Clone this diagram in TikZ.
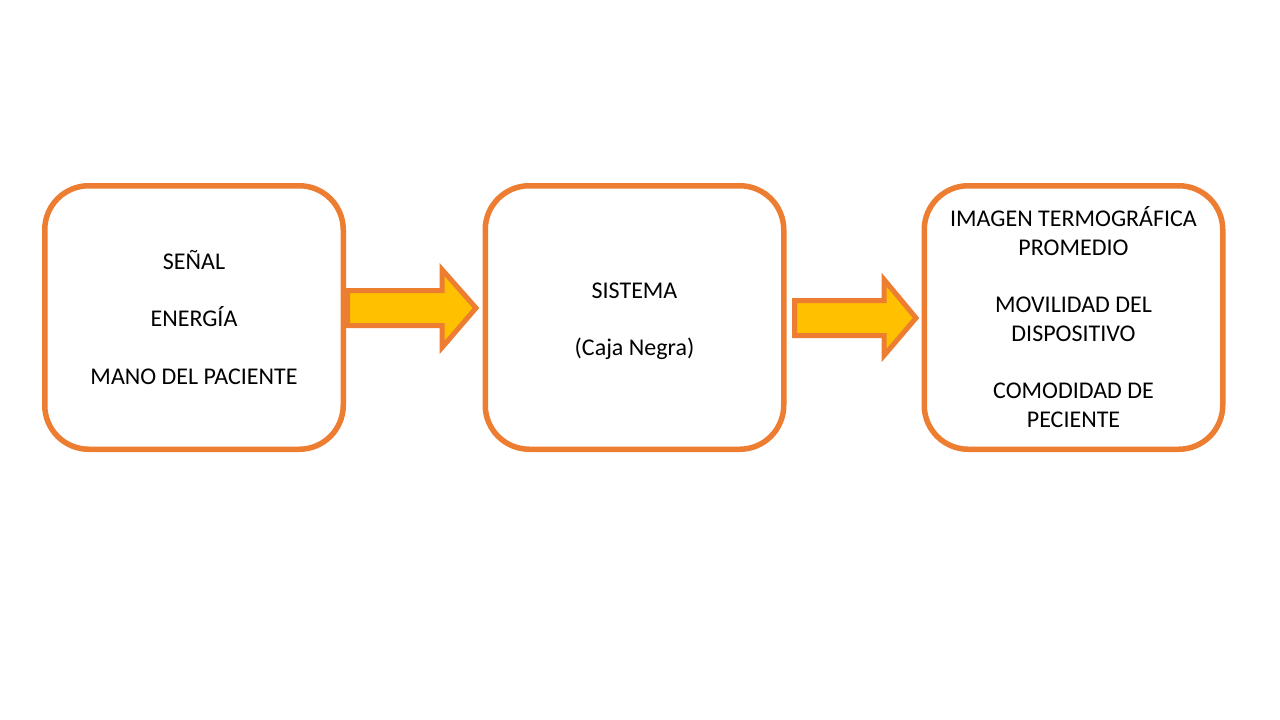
\documentclass[tikz,border=0pt]{standalone}
\usepackage{fontspec}
\setmainfont{Carlito}
\usetikzlibrary{positioning}

\begin{document}
\begin{tikzpicture}[x=1pt,y=-1pt]

  % Colours (office orange / gold)
  \definecolor{boxline}{RGB}{237,125,49}
  \definecolor{arrowfill}{RGB}{255,192,0}

  \tikzset{
    stagebox/.style={draw=boxline, line width=5.5pt, rounded corners=44pt, fill=white,
      minimum width=298.5pt, minimum height=263.5pt, align=center,
      font=\fontsize{24}{29}\selectfont},
    blockarrow/.style={draw=boxline, fill=arrowfill, line width=5pt, line join=miter}
  }

  % Page frame
  \fill[white] (0,0) rectangle (1280,720);
  \useasboundingbox (0,0) rectangle (1280,720);

  % --- The three stages ---
  \node[stagebox] (entrada) at (194,317.5)
    {SEÑAL\\[28.5pt]ENERGÍA\\[28.5pt]MANO DEL PACIENTE};
  \node[stagebox, text depth=0pt] (sistema) at (634.5,317.5)
    {\raisebox{-3pt}{SISTEMA}\\[28.5pt]\raisebox{-3pt}{(Caja Negra)}};
  \node[stagebox] (salida) at (1073.5,317.5)
    {IMAGEN TERMOGRÁFICA\\PROMEDIO\\[28pt]MOVILIDAD DEL\\DISPOSITIVO\\[28pt]COMODIDAD DE\\PECIENTE};

  % --- Block arrows between the stages ---
  \draw[blockarrow]
    (347.5,290.5) -- (442,290.5) -- (442,269.5) -- (476,308)
    -- (442,347.5) -- (442,325.5) -- (347.5,325.5) -- cycle;
  \draw[blockarrow]
    (794.5,300.5) -- (884,300.5) -- (884,279.5) -- (916,318)
    -- (884,355.5) -- (884,335.5) -- (794.5,335.5) -- cycle;

\end{tikzpicture}
\end{document}
